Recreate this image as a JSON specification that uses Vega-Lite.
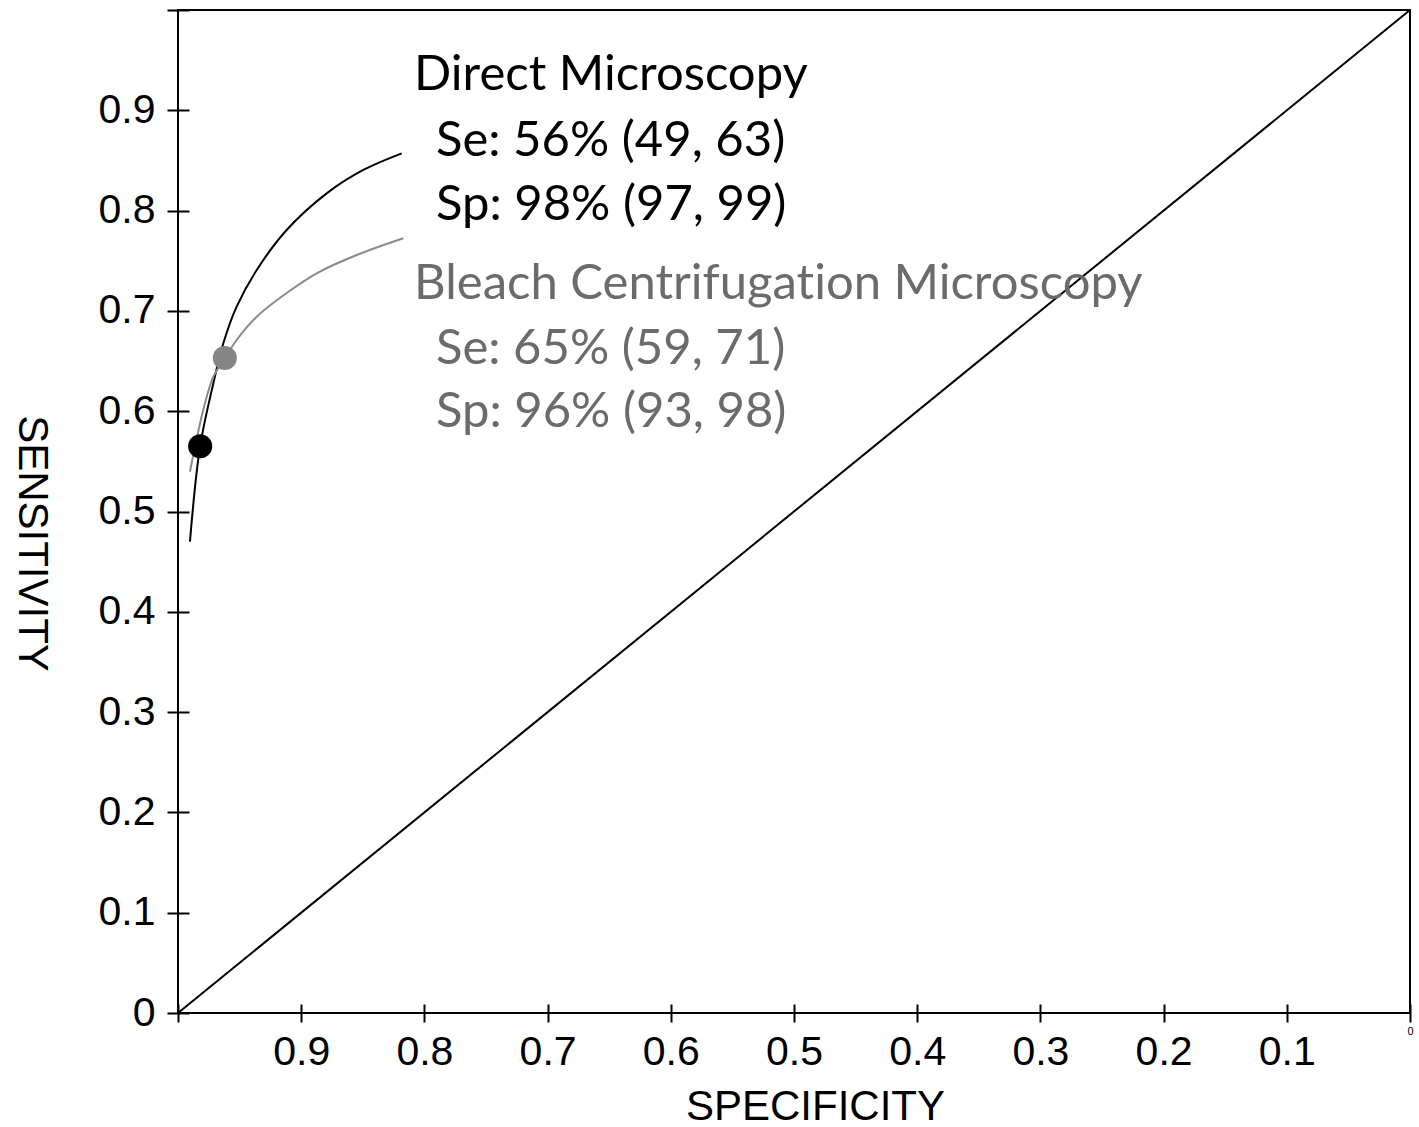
{
  "$schema": "https://vega.github.io/schema/vega-lite/v6.json",
  "width": 1232,
  "height": 1003,
  "autosize": {"type": "none"},
  "padding": {"left": 178, "top": 10, "right": 9, "bottom": 114},
  "background": "white",
  "config": {
    "view": {"stroke": "black", "strokeWidth": 2},
    "axis": {"labelFont": "Liberation Sans", "titleFont": "Liberation Sans", "labelColor": "black", "titleColor": "black", "tickColor": "black", "tickWidth": 2, "grid": false, "domain": false, "titleFontWeight": "normal"}
  },
  "datasets": {
    "curves": [
      {"series": "diag", "spec": 1, "sens": 0},
      {"series": "diag", "spec": 0, "sens": 1},
      {"series": "Direct Microscopy", "spec": 0.9903, "sens": 0.4699},
      {"series": "Direct Microscopy", "spec": 0.9821, "sens": 0.5646},
      {"series": "Direct Microscopy", "spec": 0.9713, "sens": 0.6278},
      {"series": "Direct Microscopy", "spec": 0.9632, "sens": 0.6677},
      {"series": "Direct Microscopy", "spec": 0.9524, "sens": 0.7042},
      {"series": "Direct Microscopy", "spec": 0.9361, "sens": 0.7408},
      {"series": "Direct Microscopy", "spec": 0.9118, "sens": 0.7807},
      {"series": "Direct Microscopy", "spec": 0.8793, "sens": 0.8172},
      {"series": "Direct Microscopy", "spec": 0.8496, "sens": 0.8405},
      {"series": "Direct Microscopy", "spec": 0.8184, "sens": 0.8571},
      {"series": "Bleach Centrifugation Microscopy", "spec": 0.9903, "sens": 0.5397},
      {"series": "Bleach Centrifugation Microscopy", "spec": 0.9795, "sens": 0.6012},
      {"series": "Bleach Centrifugation Microscopy", "spec": 0.9713, "sens": 0.6344},
      {"series": "Bleach Centrifugation Microscopy", "spec": 0.9619, "sens": 0.6527},
      {"series": "Bleach Centrifugation Microscopy", "spec": 0.9524, "sens": 0.6710},
      {"series": "Bleach Centrifugation Microscopy", "spec": 0.9361, "sens": 0.6942},
      {"series": "Bleach Centrifugation Microscopy", "spec": 0.9118, "sens": 0.7178},
      {"series": "Bleach Centrifugation Microscopy", "spec": 0.8874, "sens": 0.7375},
      {"series": "Bleach Centrifugation Microscopy", "spec": 0.8549, "sens": 0.7557},
      {"series": "Bleach Centrifugation Microscopy", "spec": 0.8171, "sens": 0.7724}
    ],
    "points": [
      {"series": "Direct Microscopy", "spec": 0.982, "sens": 0.565},
      {"series": "Bleach Centrifugation Microscopy", "spec": 0.962, "sens": 0.653}
    ],
    "labels": [
      {"series": "Direct Microscopy", "spec": 0.8084, "sens": 0.9203, "text": "Direct Microscopy"},
      {"series": "Direct Microscopy", "spec": 0.7906, "sens": 0.8544, "text": "Se: 56% (49, 63)"},
      {"series": "Direct Microscopy", "spec": 0.7906, "sens": 0.7906, "text": "Sp: 98% (97, 99)"},
      {"series": "Bleach Centrifugation Microscopy", "spec": 0.8084, "sens": 0.7119, "text": "Bleach Centrifugat\u200Cion Microscopy"},
      {"series": "Bleach Centrifugation Microscopy", "spec": 0.7906, "sens": 0.6471, "text": "Se: 65% (59, 71)"},
      {"series": "Bleach Centrifugation Microscopy", "spec": 0.7906, "sens": 0.5842, "text": "Sp: 96% (93, 98)"}
    ]
  },
  "encoding": {
    "x": {
      "field": "spec", "type": "quantitative",
      "scale": {"domain": [0, 1], "reverse": true, "nice": false, "zero": false},
      "axis": {
        "title": "SPECIFICITY",
        "values": [0, 0.1, 0.2, 0.3, 0.4, 0.5, 0.6, 0.7, 0.8, 0.9, 1],
        "labelExpr": "datum.value == 1 ? '' : (datum.value == 0 ? '0' : format(datum.value, '.1f'))",
        "labelFontSize": {"condition": {"test": "datum.value == 0", "value": 11}, "value": 41},
        "labelPadding": {"condition": {"test": "datum.value == 0", "value": 12}, "value": 42},
        "labelBaseline": "alphabetic",
        "labelFlush": false,
        "labelOverlap": false,
        "offset": -9,
        "tickSize": 18,
        "titleFontSize": 42,
        "titleX": 637,
        "titleY": 115,
        "titleBaseline": "alphabetic",
        "titleAlign": "center"
      }
    },
    "y": {
      "field": "sens", "type": "quantitative",
      "scale": {"domain": [0, 1], "nice": false, "zero": false},
      "axis": {
        "title": "SENSITIVITY",
        "values": [0, 0.1, 0.2, 0.3, 0.4, 0.5, 0.6, 0.7, 0.8, 0.9, 1],
        "labelExpr": "datum.value == 1 ? '' : (datum.value == 0 ? '0' : format(datum.value, '.1f'))",
        "labelFontSize": 41,
        "labelPadding": 12,
        "labelFlush": false,
        "labelOverlap": false,
        "offset": -11,
        "tickSize": 22,
        "titleFontSize": 42,
        "titleAngle": 90,
        "titleX": -171,
        "titleY": 533,
        "titleBaseline": "alphabetic",
        "titleAlign": "center"
      }
    }
  },
  "layer": [
    {
      "data": {"name": "curves"},
      "mark": {"type": "line", "strokeWidth": 2, "interpolate": "catmull-rom"},
      "encoding": {
        "detail": {"field": "series"},
        "color": {"field": "series", "type": "nominal", "legend": null,
          "scale": {"domain": ["diag", "Direct Microscopy", "Bleach Centrifugation Microscopy"], "range": ["#000000", "#000000", "#8a8a8a"]}}
      }
    },
    {
      "data": {"name": "points"},
      "mark": {"type": "point", "filled": true, "opacity": 1, "size": 580},
      "encoding": {
        "color": {"field": "series", "type": "nominal", "legend": null,
          "scale": {"domain": ["diag", "Direct Microscopy", "Bleach Centrifugation Microscopy"], "range": ["#000000", "#000000", "#858585"]}}
      }
    },
    {
      "data": {"name": "labels"},
      "mark": {"type": "text", "font": "Lato", "fontSize": 49, "align": "left", "baseline": "alphabetic"},
      "encoding": {
        "text": {"field": "text"},
        "color": {"field": "series", "type": "nominal", "legend": null,
          "scale": {"domain": ["diag", "Direct Microscopy", "Bleach Centrifugation Microscopy"], "range": ["#000000", "#000000", "#6b6b6b"]}}
      }
    }
  ],
  "resolve": {"scale": {"color": "independent"}}
}
